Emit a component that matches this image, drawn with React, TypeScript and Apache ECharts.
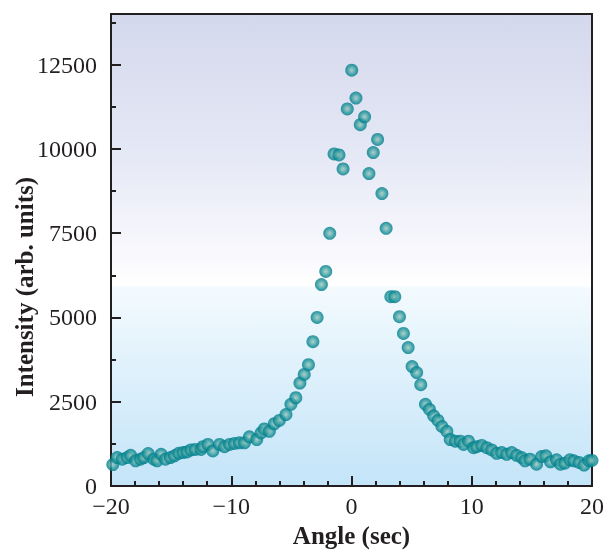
import React, { useEffect, useRef } from "react";
import * as echarts from "echarts";

const angles = [
  -19.85, -19.48, -19.06, -18.65, -18.37, -17.95, -17.54, -17.27, -16.91, -16.44,
  -16.17, -15.83, -15.47, -15.06, -14.72, -14.37, -14.01, -13.68, -13.35, -12.99,
  -12.52, -12.36, -11.94, -11.53, -10.97, -10.56, -10.14, -9.73, -9.32, -8.9,
  -8.49, -7.88, -7.52, -7.25, -6.83, -6.42, -6.0, -5.45, -5.04, -4.63,
  -4.29, -3.93, -3.58, -3.21, -2.86, -2.5, -2.14, -1.81, -1.45, -1.04,
  -0.7, -0.35, 0.02, 0.37, 0.73, 1.09, 1.45, 1.81, 2.17, 2.53,
  2.88, 3.27, 3.6, 3.99, 4.32, 4.71, 5.04, 5.42, 5.76, 6.15,
  6.48, 6.83, 7.19, 7.52, 7.93, 8.21, 8.63, 9.04, 9.32, 9.73,
  10.15, 10.42, 10.83, 11.25, 11.66, 12.07, 12.49, 12.9, 13.32, 13.73,
  14.15, 14.43, 14.84, 15.39, 15.81, 16.16, 16.55, 17.05, 17.38, 17.74,
  18.16, 18.49, 18.92, 19.34, 19.75, 20.0,
];

const intensity = [
  640, 847, 797, 847, 914, 750, 797, 847, 964, 797,
  750, 944, 797, 847, 897, 973, 993, 1013, 1072, 1089,
  1089, 1168, 1236, 1043, 1236, 1168, 1236, 1265, 1285, 1285,
  1460, 1382, 1577, 1694, 1626, 1849, 1946, 2120, 2424, 2620,
  3057, 3310, 3601, 4284, 5003, 5978, 6367, 7497, 9851, 9822,
  9404, 11186, 12334, 11507, 10718, 10952, 9268, 9891, 10280, 8674,
  7643, 5617, 5617, 5023, 4527, 4108, 3543, 3368, 3008, 2424,
  2278, 2083, 1946, 1771, 1626, 1382, 1333, 1333, 1236, 1333,
  1139, 1168, 1207, 1139, 1072, 973, 993, 944, 993, 914,
  847, 750, 797, 651, 876, 897, 721, 780, 651, 680,
  780, 750, 701, 622, 750, 760,
];

const xTicks = { min: -20, max: 20, interval: 10 };
const yTicks = { min: 0, max: 14000, interval: 2500, minorInterval: 1250 };
const xTitle = "Angle (sec)";
const yTitle = "Intensity (arb. units)";

const FONT = "'Liberation Serif', 'DejaVu Serif', serif";
const INK = "#231f20";

export default function App() {
  const ref = useRef<HTMLDivElement>(null);
  useEffect(() => {
    if (!ref.current) return;
    const chart = echarts.init(ref.current, null, { renderer: "svg" });
    const data = angles.map((a, i) => [a, intensity[i]]);
    const fmtX = (v: number) => (v < 0 ? "\u2212" + Math.abs(v) : String(v));
    chart.setOption({
      animation: false,
      textStyle: { fontFamily: FONT, color: INK },
      grid: {
        left: 111,
        top: 14,
        right: 13,
        bottom: 59,
        show: true,
        borderColor: INK,
        borderWidth: 2,
        backgroundColor: new echarts.graphic.LinearGradient(0, 0, 0, 1, [
          { offset: 0, color: "#d3d8ec" },
          { offset: 0.3, color: "#e5e8f5" },
          { offset: 0.5, color: "#f8f8fd" },
          { offset: 0.575, color: "#ffffff" },
          { offset: 0.58, color: "#f3fafe" },
          { offset: 1, color: "#c3e4f8" },
        ]),
      },
      xAxis: {
        type: "value",
        min: xTicks.min,
        max: xTicks.max,
        interval: xTicks.interval,
        name: xTitle,
        nameLocation: "middle",
        nameGap: 33,
        nameTextStyle: { fontFamily: FONT, fontSize: 25, fontWeight: "bold", color: INK },
        axisLine: { show: true, onZero: false, lineStyle: { color: INK, width: 2 } },
        axisTick: { show: true, inside: true, length: 10, lineStyle: { color: INK, width: 2 } },
        minorTick: { show: true, splitNumber: 5, length: 5, lineStyle: { color: INK, width: 2 } },
        axisLabel: { fontFamily: FONT, fontSize: 24, color: INK, margin: 8, formatter: fmtX },
        splitLine: { show: false },
      },
      yAxis: [
        {
          type: "value",
          position: "left",
          min: yTicks.min,
          max: yTicks.max,
          interval: yTicks.interval,
          axisLine: { show: true, onZero: false, lineStyle: { color: INK, width: 2 } },
          axisTick: { show: true, inside: true, length: 10, lineStyle: { color: INK, width: 2 } },
          axisLabel: {
            fontFamily: FONT,
            fontSize: 24,
            color: INK,
            margin: 14,
            showMaxLabel: false,
            formatter: (v: number) => String(v),
          },
          splitLine: { show: false },
        },
        {
          type: "value",
          position: "left",
          min: yTicks.min,
          max: yTicks.max,
          interval: yTicks.minorInterval,
          axisLine: { show: false, onZero: false },
          axisTick: { show: true, inside: true, length: 5, lineStyle: { color: INK, width: 2 } },
          axisLabel: { show: false },
          splitLine: { show: false },
        },
      ],
      graphic: [
        {
          type: "text",
          x: 24,
          y: 287,
          rotation: Math.PI / 2,
          style: {
            text: yTitle,
            fontFamily: FONT,
            fontSize: 25,
            fontWeight: "bold",
            fill: INK,
            align: "center",
            verticalAlign: "middle",
          },
        },
      ],
      series: [
        {
          type: "scatter",
          yAxisIndex: 0,
          data,
          symbol: "circle",
          symbolSize: 13,
          itemStyle: {
            color: new echarts.graphic.RadialGradient(0.5, 0.5, 0.5, [
              { offset: 0, color: "#9ccac1" },
              { offset: 0.4, color: "#56aaa8" },
              { offset: 0.75, color: "#108c96" },
              { offset: 1, color: "#017c88" },
            ]),
          },
        },
      ],
    });
    return () => chart.dispose();
  }, []);
  return (
    <div
      ref={ref}
      style={{ position: "fixed", left: 0, top: 0, width: 607, height: 553 }}
    />
  );
}
